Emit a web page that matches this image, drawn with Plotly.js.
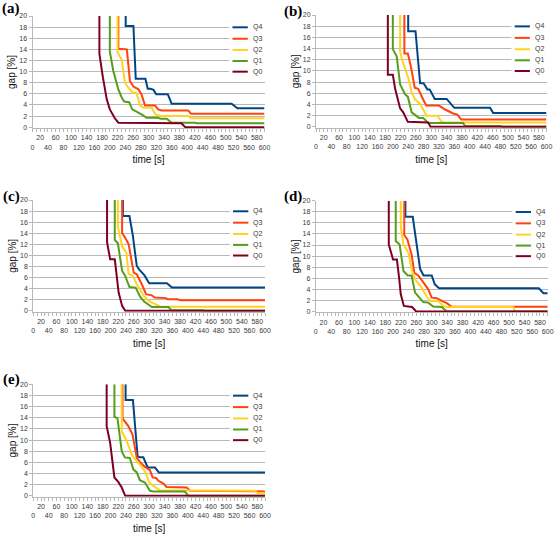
<!DOCTYPE html>
<html><head><meta charset="utf-8">
<script src="https://cdn.plot.ly/plotly-3.0.1.min.js"></script>
<style>html,body{margin:0;padding:0;background:#fff;}#chart{width:555px;height:538px;}</style>
</head><body><div id="chart"></div>
<script>
// ---- series / labels ----
const seriesNames = ['Q4','Q3','Q2','Q1','Q0'];
const seriesColors = ['#004586','#ff420e','#ffd320','#579d1c','#7e0021'];
const panelLabels = ['(a)','(b)','(c)','(d)','(e)'];
const xTicksUpper = [20,60,100,140,180,220,260,300,340,380,420,460,500,540,580];
const xTicksLower = [0,40,80,120,160,200,240,280,320,360,400,440,480,520,560,600];
const yTicks = [0,2,4,6,8,10,12,14,16,18,20];

// ---- panel (a) ----
const a_Q4_t = [241,241,261,267,292,298,305,313,320,350,360,515,530,600];
const a_Q4_g = [20,18.2,18.2,8.7,8.7,6.9,6.9,6.7,5.9,5.9,4.2,4.2,3.4,3.4];
const a_Q3_t = [222,222,244,252,261,274,282,291,317,325,334,403,410,600];
const a_Q3_g = [20,14.1,14.0,8.3,7.3,6.8,5.9,3.9,3.9,3.2,3.0,3.0,2.4,2.4];
const a_Q2_t = [220,220,231,239,248,259,269,278,287,308,318,330,403,410,600];
const a_Q2_g = [20,13.5,12.1,8.0,7.1,6.2,6.2,3.9,3.5,3.5,2.3,2.0,2.0,1.6,1.6];
const a_Q1_t = [200,200,209,222,231,237,250,258,282,295,325,332,347,360,420,425,600];
const a_Q1_g = [20,13.6,10.1,6.8,5.3,4.6,4.5,3.2,2.3,1.7,1.7,1.5,1.5,0.8,0.8,0.7,0.7];
const a_Q0_t = [173,173,182,192,200,213,222,385,395,600];
const a_Q0_g = [20,13.2,9.0,5.0,3.2,1.6,0.8,0.7,0,0];

// ---- panel (b) ----
const b_Q4_t = [240,240,259,271,280,290,296,309,340,360,453,461,600];
const b_Q4_g = [20,17.1,17.1,7.8,7.8,6.7,6.7,5.0,5.0,3.4,3.4,2.5,2.5];
const b_Q3_t = [230,230,239,247,257,266,279,287,320,336,357,368,378,600];
const b_Q3_g = [20,13.1,13.1,10.8,7.0,6.8,4.9,3.8,3.8,3.1,2.4,2.2,1.3,1.3];
const b_Q2_t = [219,219,224,240,249,258,271,279,288,316,327,336,600];
const b_Q2_g = [20,13.5,12.0,8.8,6.1,4.9,4.1,3.1,2.0,2.0,0.9,0.8,0.8];
const b_Q1_t = [200,200,210,219,232,239,249,262,268,279,292,383,388,480,485,600];
const b_Q1_g = [20,13.9,12.6,7.6,5.8,5.4,2.6,2.0,1.6,1.6,0.7,0.7,0.15,0.15,0,0];
const b_Q0_t = [187,187,200,206,219,227,239,292,298,600];
const b_Q0_g = [20,9.3,9.3,6.8,3.3,2.6,0.9,0.8,0,0];

// ---- panel (c) ----
const c_Q4_t = [232,232,249,258,264,268,275,288,300,346,359,600];
const c_Q4_g = [20,17.1,17.1,13.5,10.2,8.1,7.4,6.4,5.0,5.0,4.2,4.2];
const c_Q3_t = [230,230,238,247,260,268,281,292,307,314,344,348,374,381,600];
const c_Q3_g = [20,14.0,13.2,12.0,6.9,6.6,4.8,3.0,2.8,2.4,2.3,2.1,2.1,1.9,1.9];
const c_Q2_t = [219,219,230,241,247,258,268,286,299,320,329,600];
const c_Q2_g = [20,15.2,11.6,10.5,6.6,6.3,4.8,2.7,1.8,1.0,0.75,0.75];
const c_Q1_t = [211,211,219,230,238,249,265,277,287,299,307,350,358,440,445,600];
const c_Q1_g = [20,12.8,12.2,7.2,6.3,4.3,4.2,2.5,1.7,1.0,0.7,0.7,0.1,0.1,0,0];
const c_Q0_t = [191,191,199,211,216,221,230,238,600];
const c_Q0_g = [20,12.4,9.3,9.3,6.3,3.3,0.9,0,0];

// ---- panel (d) ----
const d_Q4_t = [232,232,251,264,270,279,300,308,319,577,589,600];
const d_Q4_g = [20,17.1,17.1,11.0,7.7,6.5,6.5,4.9,4.2,4.2,3.3,3.3];
const d_Q3_t = [229,229,237,248,255,265,278,291,300,313,326,339,352,600];
const d_Q3_g = [20,13.8,13.0,10.3,7.0,6.5,5.3,4.0,2.5,2.4,1.9,1.5,0.85,0.85];
const d_Q2_t = [220,220,227,240,248,257,274,287,296,317,330,339,511,515,600];
const d_Q2_g = [20,15.2,12.1,10.6,7.6,5.8,4.3,2.7,1.9,1.9,1.0,0.8,0.8,0,0];
const d_Q1_t = [207,207,217,227,238,248,257,265,278,291,304,326,339,600];
const d_Q1_g = [20,12.7,12.1,7.3,6.5,6.5,3.4,2.8,1.7,1.6,0.9,0.8,0,0];
const d_Q0_t = [189,189,200,210,216,220,228,249,260,600];
const d_Q0_g = [20,12.1,9.4,9.4,5.9,3.1,1.0,0.8,0,0];

// ---- panel (e) ----
const e_Q4_t = [239,239,258,270,276,285,296,315,325,600];
const e_Q4_g = [20,17.2,17.2,7.1,6.9,6.9,5.1,5.1,4.2,4.2];
const e_Q3_t = [231,231,246,257,268,276,289,302,309,318,324,337,345,397,406,575,580,600];
const e_Q3_g = [20,13.9,12.5,11.0,6.8,6.1,5.2,4.6,3.3,3.2,2.7,2.2,1.6,1.5,0.9,0.9,0.8,0.8];
const e_Q2_t = [229,229,242,255,268,281,291,300,311,320,328,575,580,600];
const e_Q2_g = [20,11.6,9.8,7.4,6.2,5.2,4.2,2.4,1.8,1.4,1.0,0.9,0.5,0.5];
const e_Q1_t = [210,210,218,229,237,250,259,268,276,289,302,311,393,401,600];
const e_Q1_g = [20,14.2,13.9,8.0,6.9,6.8,4.75,4.2,2.8,2.4,0.9,0.8,0.8,0,0];
const e_Q0_t = [190,190,199,210,220,229,238,600];
const e_Q0_g = [20,12.5,9.5,3.3,2.5,1.5,0,0];

const panels = [
  [[a_Q4_t,a_Q4_g],[a_Q3_t,a_Q3_g],[a_Q2_t,a_Q2_g],[a_Q1_t,a_Q1_g],[a_Q0_t,a_Q0_g]],
  [[b_Q4_t,b_Q4_g],[b_Q3_t,b_Q3_g],[b_Q2_t,b_Q2_g],[b_Q1_t,b_Q1_g],[b_Q0_t,b_Q0_g]],
  [[c_Q4_t,c_Q4_g],[c_Q3_t,c_Q3_g],[c_Q2_t,c_Q2_g],[c_Q1_t,c_Q1_g],[c_Q0_t,c_Q0_g]],
  [[d_Q4_t,d_Q4_g],[d_Q3_t,d_Q3_g],[d_Q2_t,d_Q2_g],[d_Q1_t,d_Q1_g],[d_Q0_t,d_Q0_g]],
  [[e_Q4_t,e_Q4_g],[e_Q3_t,e_Q3_g],[e_Q2_t,e_Q2_g],[e_Q1_t,e_Q1_g],[e_Q0_t,e_Q0_g]]
];

// ---- layout geometry (pixels) ----
const W = 555, H = 538;
const boxes = [ // [left, right, top, bottom] of plot areas in px
  [32.5, 264.5, 16, 128],
  [316, 546.5, 15, 127.7],
  [33.3, 265, 200, 311.7],
  [315.7, 547.7, 200.7, 312.3],
  [33.3, 265, 384.3, 496.7]
];
const labelPos = [[0,8],[282,11],[1,196],[282,196],[1,379]];

const GRID = '#b8b8b8', TXT = '#3a3a3a', FONT = 'Liberation Sans, Arial, sans-serif';

// tick values every 10 s with staggered labels
const xTickVals = [], xTickText = [];
for (let v = 0; v <= 600; v += 10) {
  xTickVals.push(v);
  if (xTicksLower.includes(v)) xTickText.push('<br>' + v);
  else if (xTicksUpper.includes(v)) xTickText.push(String(v));
  else xTickText.push('');
}

const traces = [];
const layout = {
  width: W, height: H,
  margin: {l:0, r:0, t:0, b:0},
  paper_bgcolor: '#fff', plot_bgcolor: '#fff',
  showlegend: false,
  font: {family: FONT, size: 7, color: TXT},
  annotations: [], shapes: []
};

const legendY = [0.899, 0.797, 0.696, 0.598, 0.503];
panels.forEach((p, i) => {
  const xa = 'x' + (i ? i + 1 : ''), ya = 'y' + (i ? i + 1 : '');
  const xk = 'xaxis' + (i ? i + 1 : ''), yk = 'yaxis' + (i ? i + 1 : '');
  const [l, r, t, b] = boxes[i];
  layout[xk] = {
    domain: [l / W, r / W], anchor: ya, range: [0, 600],
    tickmode: 'array', tickvals: xTickVals, ticktext: xTickText, tickangle: 0,
    ticks: 'outside', ticklen: 3, tickcolor: GRID, tickwidth: 1,
    showline: true, linecolor: GRID, linewidth: 1,
    showgrid: false, zeroline: false, fixedrange: true,
    tickfont: {family: FONT, size: 7, color: TXT},
    title: {text: 'time [s]', font: {family: FONT, size: 10, color: '#111'}, standoff: 6}
  };
  layout[yk] = {
    domain: [1 - b / H, 1 - t / H], anchor: xa, range: [-0.15, 20],
    tickmode: 'array', tickvals: yTicks,
    ticks: 'outside', ticklen: 3, tickcolor: GRID,
    showline: true, linecolor: GRID, linewidth: 1,
    showgrid: true, gridcolor: GRID, gridwidth: 1, zeroline: false, fixedrange: true,
    tickfont: {family: FONT, size: 7, color: TXT},
    title: {text: 'gap [%]', font: {family: FONT, size: 10, color: '#111'}, standoff: 1}
  };
  p.forEach((s, k) => {
    traces.push({
      type: 'scatter', mode: 'lines', x: s[0], y: s[1], xaxis: xa, yaxis: ya,
      name: seriesNames[k], line: {color: seriesColors[k], width: 2},
      hoverinfo: 'skip', showlegend: false
    });
  });
  // panel legend box (white, hides gridlines) + entries
  layout.shapes.push({type: 'rect', xref: xa + ' domain', yref: ya + ' domain',
    x0: 0.848, x1: 1.006, y0: 0.455, y1: 0.95, layer: 'above',
    fillcolor: '#ffffff', line: {width: 0}});
  seriesNames.forEach((n, k) => {
    layout.shapes.push({type: 'line', xref: xa + ' domain', yref: ya + ' domain',
      x0: 0.862, x1: 0.928, y0: legendY[k], y1: legendY[k], layer: 'above',
      line: {color: seriesColors[k], width: 2}});
    layout.annotations.push({xref: xa + ' domain', yref: ya + ' domain',
      x: 0.94, y: legendY[k], xanchor: 'left', yanchor: 'middle', showarrow: false,
      text: n, font: {family: FONT, size: 7, color: TXT}});
  });
  layout.annotations.push({xref: 'paper', yref: 'paper',
    x: labelPos[i][0] / W, y: 1 - labelPos[i][1] / H, xanchor: 'left', yanchor: 'middle',
    showarrow: false, text: '<b>' + panelLabels[i] + '</b>',
    font: {family: 'Liberation Serif, Times New Roman, serif', size: 15, color: '#000'}});
});

Plotly.newPlot('chart', traces, layout, {staticPlot: true, displayModeBar: false});
</script>
</body></html>
